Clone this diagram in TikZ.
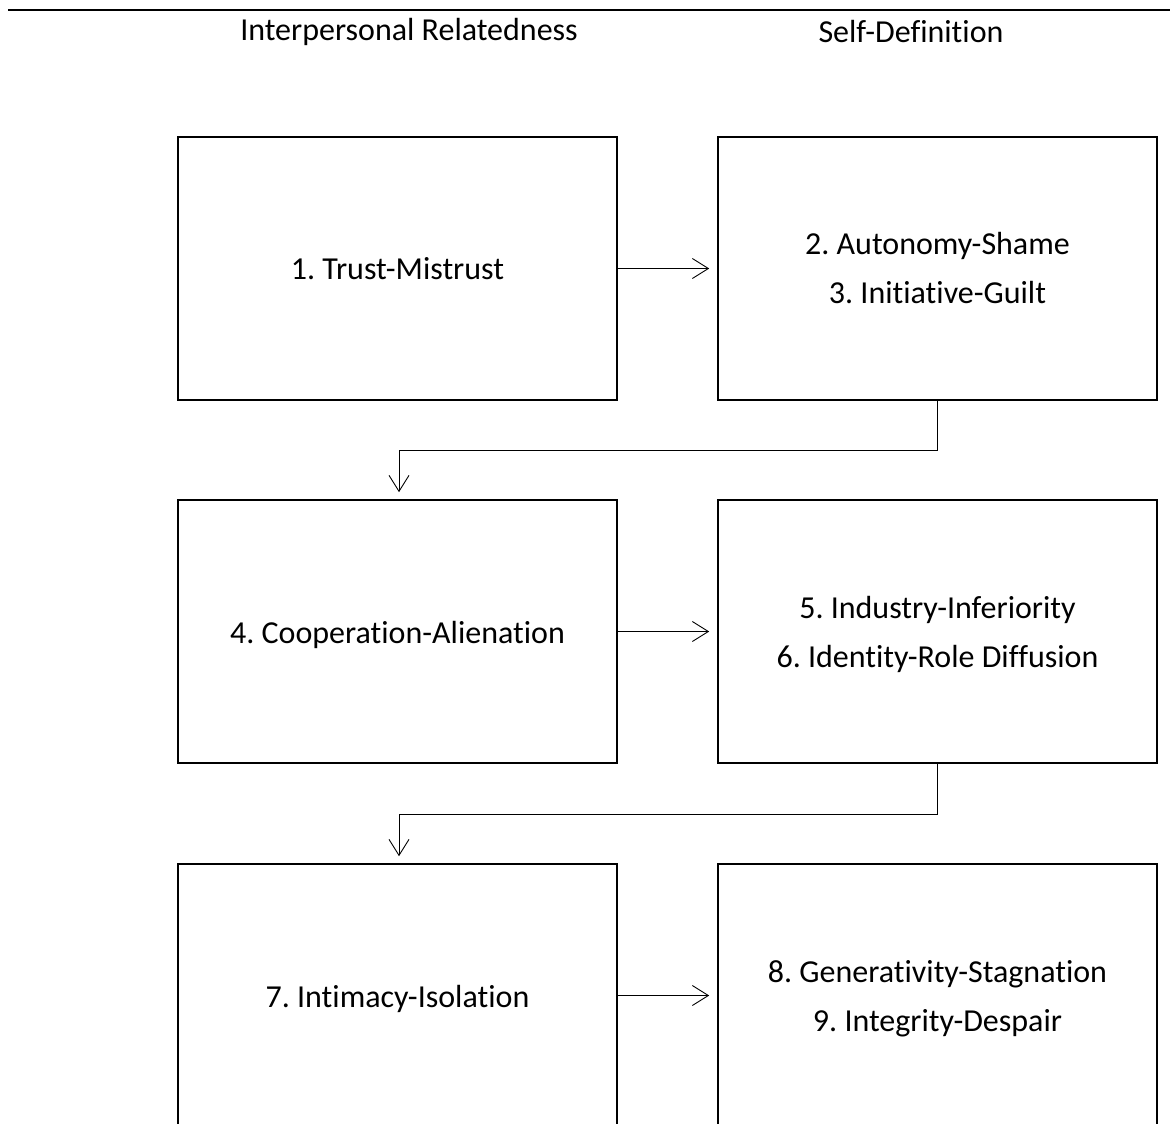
\documentclass[tikz,border=0pt]{standalone}
\usepackage{fontspec}
\setmainfont{Carlito}[Ligatures=NoCommon]
\usetikzlibrary{arrows.meta}
\frenchspacing
\begin{document}
\begin{tikzpicture}[x=1pt,y=-1pt,
  stagebox/.style={draw,line width=1.6pt,minimum width=439pt,minimum height=263pt,inner sep=0pt},
  stagetext/.style={align=center,font=\fontsize{32}{49}\selectfont,inner sep=0pt},
  head/.style={font=\fontsize{32}{36}\selectfont,inner sep=0pt},
  link/.style={line width=0.9pt,-{Straight Barb[length=16pt,width=20pt,line width=0.9pt]}}]
  \useasboundingbox (0,0) rectangle (1170,1124);
  \clip (0,0) rectangle (1170,1124);
  % top rule and column headings
  \draw[line width=1.6pt] (8,10) -- (1170,10);
  \node[head] (hl) at (409,32) {Interpersonal Relatedness};
  \node[head] (hr) at (911,32) {Self-Definition};
  % stage boxes
  \node[stagebox] (s1) at (397.5,268.5) {};
  \node[stagebox] (s23) at (937.5,268.5) {};
  \node[stagebox] (s4) at (397.5,631.5) {};
  \node[stagebox] (s56) at (937.5,631.5) {};
  \node[stagebox] (s7) at (397.5,995.5) {};
  \node[stagebox] (s89) at (937.5,995.5) {};
  % stage names
  \node[stagetext] (t1) at (s1.center) {1. Trust-Mistrust};
  \node[stagetext] (t23) at (s23.center) {2. Autonomy-Shame\\3. Initiative-Guilt};
  \node[stagetext] (t4) at ([yshift=-3pt]s4.center) {4. Cooperation-Alienation};
  \node[stagetext] (t56) at ([yshift=-3pt]s56.center) {5. Industry-Inferiority\\6. Identity-Role Diffusion};
  \node[stagetext] (t7) at ([yshift=-3pt]s7.center) {7. Intimacy-Isolation};
  \node[stagetext] (t89) at ([yshift=-3pt]s89.center) {8. Generativity-Stagnation\\9. Integrity-Despair};
  % connectors
  \draw[link] (s1.east) -- ([xshift=-8pt]s23.west);
  \draw[link] (s4.east) -- ([xshift=-8pt]s56.west);
  \draw[link] (s7.east) -- ([xshift=-8pt]s89.west);
  \draw[link] (s23.south) -- ++(0,50) -| ([shift={(1.5,-7)}]s4.north);
  \draw[link] (s56.south) -- ++(0,51) -| ([shift={(1.5,-7)}]s7.north);
\end{tikzpicture}
\end{document}
